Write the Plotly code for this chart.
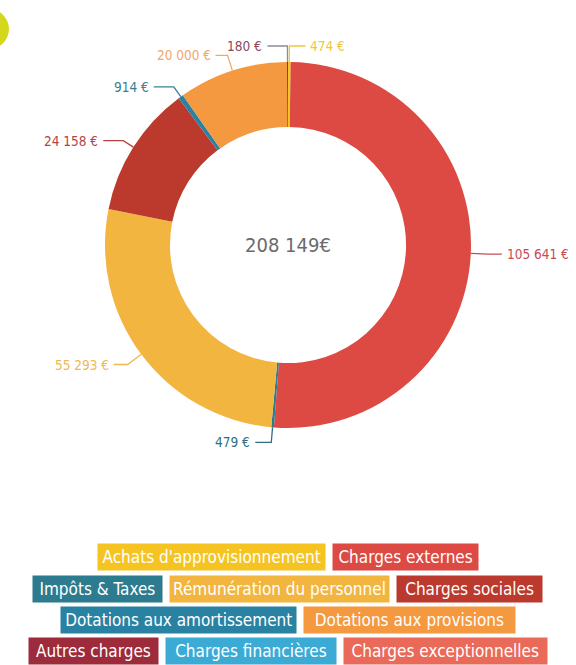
import math
import plotly.graph_objects as go

# ---------------- data ----------------
categories = [
    "Achats d'approvisionnement", "Charges externes", "Impôts & Taxes",
    "Rémunération du personnel", "Charges sociales",
    "Dotations aux amortissement", "Dotations aux provisions",
    "Autres charges", "Charges financières", "Charges exceptionnelles",
]
values = [474, 105641, 479, 55293, 24158, 914, 20000, 180, 0, 0]
value_labels = ["474 €", "105 641 €", "479 €", "55 293 €", "24 158 €",
                "914 €", "20 000 €", "180 €", "", ""]
center_label = "208 149€"

# ---------------- style ----------------
colors = ["#f5c423", "#dc4a43", "#2d7b8e", "#f2b540", "#bc3a2d",
          "#2a82a3", "#f4993f", "#9d2b3b", "#3babd5", "#ea6a5a"]
label_colors = ["#f0c640", "#c94a55", "#2e6f84", "#f0b850", "#b5443f",
                "#3a7d93", "#f2a66a", "#8a4a5c", "#3babd5", "#ea6a5a"]
line_colors = ["#f0c640", "#c94a55", "#2e6f84", "#f0b850", "#b5443f",
               "#3a7d93", "#f2a66a", "#8c8c96", "#3babd5", "#ea6a5a"]
legend_rows = [[0, 1], [2, 3, 4], [5, 6], [7, 8, 9]]
legend_row_y = [557, 589, 620, 651]   # px centres of legend rows
elbow_r = [199, 200, 198, 200, 195, 195, 199, 199, 0, 0]
horiz_len = [16, 14, 16, 14, 20, 20, 12, 20, 0, 0]

W, H = 576, 665
CX, CY, R_OUT = 288, 245, 183
HOLE = 0.645


def px(x):
    return x / W


def py(y):
    return 1 - y / H


fig = go.Figure()
fig.add_trace(go.Pie(
    labels=categories, values=values, hole=HOLE, sort=False,
    direction="clockwise", rotation=0, textinfo="none",
    marker=dict(colors=colors, line=dict(width=0)),
    domain=dict(x=[px(CX - R_OUT), px(CX + R_OUT)],
                y=[py(CY + R_OUT), py(CY - R_OUT)]),
    showlegend=False,
))

shapes = []
annotations = []

# value labels with elbow leader lines
total = sum(values)
cum = 0
for i, v in enumerate(values):
    start = cum
    cum += v
    if v <= 0 or not value_labels[i]:
        continue
    mid = math.radians((start + v / 2) / total * 360)
    s, c = math.sin(mid), math.cos(mid)
    x0, y0 = CX + R_OUT * s, CY - R_OUT * c
    x1, y1 = CX + elbow_r[i] * s, CY - elbow_r[i] * c
    side = 1 if s >= 0 else -1
    x2 = x1 + side * horiz_len[i]
    shapes.append(dict(
        type="path", xref="paper", yref="paper",
        path=f"M {px(x0)},{py(y0)} L {px(x1)},{py(y1)} L {px(x2)},{py(y1)}",
        line=dict(color=line_colors[i], width=1.3),
    ))
    annotations.append(dict(
        x=px(x2 + side * 3), y=py(y1), xref="paper", yref="paper",
        text=value_labels[i], showarrow=False,
        xanchor="left" if side > 0 else "right", yanchor="middle",
        font=dict(family="DejaVu Sans Condensed, DejaVu Sans", size=13.5,
                  color=label_colors[i]),
    ))

# centre total
annotations.append(dict(
    x=px(CX), y=py(CY), xref="paper", yref="paper", text=center_label,
    showarrow=False, xanchor="center", yanchor="middle",
    font=dict(family="DejaVu Sans Condensed, DejaVu Sans", size=20,
              color="#6b6b6b"),
))

# legend as coloured boxes
GAP = 8
BOX_H = 26
for row, yc in zip(legend_rows, legend_row_y):
    widths = [8.2 * len(categories[i]) + 14 for i in row]
    total_w = sum(widths) + GAP * (len(row) - 1)
    x = CX - total_w / 2
    for i, w in zip(row, widths):
        annotations.append(dict(
            x=px(x + w / 2), y=py(yc), xref="paper", yref="paper",
            text=categories[i], showarrow=False,
            xanchor="center", yanchor="middle",
            width=w, height=BOX_H, bgcolor=colors[i], borderpad=0,
            font=dict(family="Liberation Sans Narrow, DejaVu Sans Condensed",
                      size=17, color="#ffffff"),
        ))
        x += w + GAP

# decorative yellow blob at top-left corner
shapes.append(dict(
    type="circle", xref="paper", yref="paper",
    x0=px(-36), x1=px(9), y0=py(50), y1=py(8),
    fillcolor="#d3d81c", line=dict(width=0),
))

fig.update_layout(
    width=W, height=H,
    margin=dict(l=0, r=0, t=0, b=0),
    paper_bgcolor="#ffffff", plot_bgcolor="#ffffff",
    shapes=shapes, annotations=annotations,
)

fig.write_html("out.html",
               config={"displayModeBar": False},
               post_script="document.body.style.margin='0px';"
                           "document.body.style.padding='0px';")
